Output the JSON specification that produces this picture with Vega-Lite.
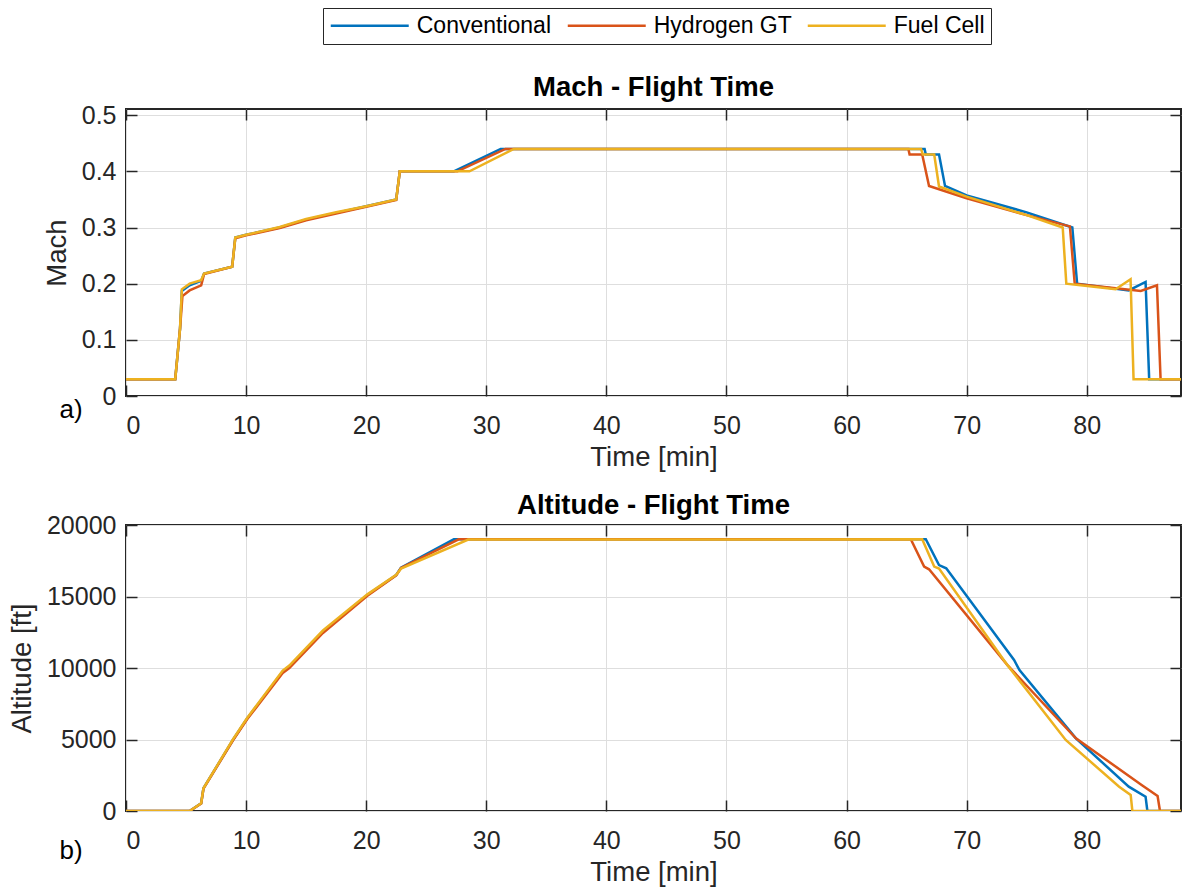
{
  "$schema": "https://vega.github.io/schema/vega-lite/v6.json",
  "padding": {"left": 7, "top": 7, "right": 0, "bottom": 5},
  "background": "white",
  "config": {
    "font": "Liberation Sans",
    "view": {"stroke": "#262626", "strokeWidth": 2},
    "axis": {
      "domain": false,
      "tickColor": "#262626",
      "tickWidth": 1.5,
      "tickSize": -11,
      "labelFont": "Liberation Sans",
      "labelFontSize": 25,
      "labelColor": "#262626",
      "titleFont": "Liberation Sans",
      "titleFontSize": 27.5,
      "titleFontWeight": "normal",
      "titleColor": "#262626",
      "gridColor": "#dedede",
      "gridWidth": 1
    },
    "title": {"font": "Liberation Sans", "fontSize": 27.5, "fontWeight": "bold", "color": "#000000", "offset": 2},
    "concat": {"spacing": 18}
  },
  "datasets": {
    "mach": [
      {"series": "Conventional", "time": 0, "mach": 0.03},
      {"series": "Conventional", "time": 4.1, "mach": 0.03},
      {"series": "Conventional", "time": 4.5, "mach": 0.12},
      {"series": "Conventional", "time": 4.65, "mach": 0.187},
      {"series": "Conventional", "time": 5.3, "mach": 0.197},
      {"series": "Conventional", "time": 6.26, "mach": 0.205},
      {"series": "Conventional", "time": 6.5, "mach": 0.218},
      {"series": "Conventional", "time": 8.84, "mach": 0.23},
      {"series": "Conventional", "time": 9.1, "mach": 0.282},
      {"series": "Conventional", "time": 10, "mach": 0.287},
      {"series": "Conventional", "time": 12.8, "mach": 0.3},
      {"series": "Conventional", "time": 15, "mach": 0.314},
      {"series": "Conventional", "time": 17.5, "mach": 0.326},
      {"series": "Conventional", "time": 20, "mach": 0.338},
      {"series": "Conventional", "time": 22.5, "mach": 0.35},
      {"series": "Conventional", "time": 22.8, "mach": 0.4},
      {"series": "Conventional", "time": 27.3, "mach": 0.4},
      {"series": "Conventional", "time": 31.2, "mach": 0.44},
      {"series": "Conventional", "time": 66.5, "mach": 0.44},
      {"series": "Conventional", "time": 66.6, "mach": 0.43},
      {"series": "Conventional", "time": 67.7, "mach": 0.43},
      {"series": "Conventional", "time": 68.2, "mach": 0.374},
      {"series": "Conventional", "time": 70, "mach": 0.357},
      {"series": "Conventional", "time": 75, "mach": 0.327},
      {"series": "Conventional", "time": 78.8, "mach": 0.3},
      {"series": "Conventional", "time": 79.2, "mach": 0.2},
      {"series": "Conventional", "time": 83.5, "mach": 0.188},
      {"series": "Conventional", "time": 84.9, "mach": 0.203},
      {"series": "Conventional", "time": 85.2, "mach": 0.03},
      {"series": "Conventional", "time": 88, "mach": 0.03},
      {"series": "Hydrogen GT", "time": 0, "mach": 0.03},
      {"series": "Hydrogen GT", "time": 4.1, "mach": 0.03},
      {"series": "Hydrogen GT", "time": 4.5, "mach": 0.12},
      {"series": "Hydrogen GT", "time": 4.7, "mach": 0.178},
      {"series": "Hydrogen GT", "time": 5.3, "mach": 0.188},
      {"series": "Hydrogen GT", "time": 6.26, "mach": 0.197},
      {"series": "Hydrogen GT", "time": 6.5, "mach": 0.217},
      {"series": "Hydrogen GT", "time": 8.84, "mach": 0.23},
      {"series": "Hydrogen GT", "time": 9.1, "mach": 0.281},
      {"series": "Hydrogen GT", "time": 10, "mach": 0.286},
      {"series": "Hydrogen GT", "time": 12.8, "mach": 0.299},
      {"series": "Hydrogen GT", "time": 15, "mach": 0.313},
      {"series": "Hydrogen GT", "time": 17.5, "mach": 0.325},
      {"series": "Hydrogen GT", "time": 20, "mach": 0.337},
      {"series": "Hydrogen GT", "time": 22.5, "mach": 0.349},
      {"series": "Hydrogen GT", "time": 22.8, "mach": 0.4},
      {"series": "Hydrogen GT", "time": 27.6, "mach": 0.4},
      {"series": "Hydrogen GT", "time": 31.6, "mach": 0.44},
      {"series": "Hydrogen GT", "time": 65.15, "mach": 0.44},
      {"series": "Hydrogen GT", "time": 65.25, "mach": 0.43},
      {"series": "Hydrogen GT", "time": 66.3, "mach": 0.43},
      {"series": "Hydrogen GT", "time": 66.87, "mach": 0.374},
      {"series": "Hydrogen GT", "time": 70, "mach": 0.352},
      {"series": "Hydrogen GT", "time": 75, "mach": 0.322},
      {"series": "Hydrogen GT", "time": 78.6, "mach": 0.302},
      {"series": "Hydrogen GT", "time": 79.0, "mach": 0.2},
      {"series": "Hydrogen GT", "time": 84.5, "mach": 0.187},
      {"series": "Hydrogen GT", "time": 85.85, "mach": 0.197},
      {"series": "Hydrogen GT", "time": 86.15, "mach": 0.03},
      {"series": "Hydrogen GT", "time": 88, "mach": 0.03},
      {"series": "Fuel Cell", "time": 0, "mach": 0.03},
      {"series": "Fuel Cell", "time": 4.1, "mach": 0.03},
      {"series": "Fuel Cell", "time": 4.5, "mach": 0.12},
      {"series": "Fuel Cell", "time": 4.65, "mach": 0.19},
      {"series": "Fuel Cell", "time": 5.3, "mach": 0.2},
      {"series": "Fuel Cell", "time": 6.26, "mach": 0.206},
      {"series": "Fuel Cell", "time": 6.5, "mach": 0.218},
      {"series": "Fuel Cell", "time": 8.84, "mach": 0.23},
      {"series": "Fuel Cell", "time": 9.1, "mach": 0.282},
      {"series": "Fuel Cell", "time": 10, "mach": 0.287},
      {"series": "Fuel Cell", "time": 12.8, "mach": 0.301},
      {"series": "Fuel Cell", "time": 15, "mach": 0.315},
      {"series": "Fuel Cell", "time": 17.5, "mach": 0.327},
      {"series": "Fuel Cell", "time": 20, "mach": 0.338},
      {"series": "Fuel Cell", "time": 22.5, "mach": 0.35},
      {"series": "Fuel Cell", "time": 22.8, "mach": 0.4},
      {"series": "Fuel Cell", "time": 28.6, "mach": 0.4},
      {"series": "Fuel Cell", "time": 32.3, "mach": 0.44},
      {"series": "Fuel Cell", "time": 66.2, "mach": 0.44},
      {"series": "Fuel Cell", "time": 66.35, "mach": 0.43},
      {"series": "Fuel Cell", "time": 67.3, "mach": 0.43},
      {"series": "Fuel Cell", "time": 67.7, "mach": 0.373},
      {"series": "Fuel Cell", "time": 70, "mach": 0.355},
      {"series": "Fuel Cell", "time": 75, "mach": 0.322},
      {"series": "Fuel Cell", "time": 78.0, "mach": 0.3},
      {"series": "Fuel Cell", "time": 78.3, "mach": 0.2},
      {"series": "Fuel Cell", "time": 82.4, "mach": 0.19},
      {"series": "Fuel Cell", "time": 83.65, "mach": 0.208},
      {"series": "Fuel Cell", "time": 83.9, "mach": 0.03},
      {"series": "Fuel Cell", "time": 88, "mach": 0.03}
    ],
    "alt": [
      {"series": "Conventional", "time": 0, "altitude": 0},
      {"series": "Conventional", "time": 5.3, "altitude": 0},
      {"series": "Conventional", "time": 6.26, "altitude": 540},
      {"series": "Conventional", "time": 6.45, "altitude": 1590},
      {"series": "Conventional", "time": 8.9, "altitude": 4965},
      {"series": "Conventional", "time": 10.1, "altitude": 6480},
      {"series": "Conventional", "time": 13.05, "altitude": 9750},
      {"series": "Conventional", "time": 13.6, "altitude": 10100},
      {"series": "Conventional", "time": 16.4, "altitude": 12545},
      {"series": "Conventional", "time": 20.1, "altitude": 15105},
      {"series": "Conventional", "time": 22.5, "altitude": 16500},
      {"series": "Conventional", "time": 22.9, "altitude": 17020},
      {"series": "Conventional", "time": 27.3, "altitude": 19000},
      {"series": "Conventional", "time": 66.6, "altitude": 19000},
      {"series": "Conventional", "time": 67.7, "altitude": 17200},
      {"series": "Conventional", "time": 68.3, "altitude": 16970},
      {"series": "Conventional", "time": 73.95, "altitude": 10560},
      {"series": "Conventional", "time": 74.4, "altitude": 9860},
      {"series": "Conventional", "time": 79.1, "altitude": 5080},
      {"series": "Conventional", "time": 83.5, "altitude": 1700},
      {"series": "Conventional", "time": 84.9, "altitude": 1000},
      {"series": "Conventional", "time": 85.05, "altitude": 0},
      {"series": "Conventional", "time": 88, "altitude": 0},
      {"series": "Hydrogen GT", "time": 0, "altitude": 0},
      {"series": "Hydrogen GT", "time": 5.3, "altitude": 0},
      {"series": "Hydrogen GT", "time": 6.26, "altitude": 520},
      {"series": "Hydrogen GT", "time": 6.45, "altitude": 1560},
      {"series": "Hydrogen GT", "time": 8.9, "altitude": 4930},
      {"series": "Hydrogen GT", "time": 10.1, "altitude": 6430},
      {"series": "Hydrogen GT", "time": 13.05, "altitude": 9650},
      {"series": "Hydrogen GT", "time": 13.6, "altitude": 10000},
      {"series": "Hydrogen GT", "time": 16.4, "altitude": 12450},
      {"series": "Hydrogen GT", "time": 20.1, "altitude": 15050},
      {"series": "Hydrogen GT", "time": 22.5, "altitude": 16480},
      {"series": "Hydrogen GT", "time": 22.9, "altitude": 17000},
      {"series": "Hydrogen GT", "time": 27.7, "altitude": 19000},
      {"series": "Hydrogen GT", "time": 65.35, "altitude": 19000},
      {"series": "Hydrogen GT", "time": 66.46, "altitude": 17090},
      {"series": "Hydrogen GT", "time": 66.87, "altitude": 16900},
      {"series": "Hydrogen GT", "time": 73.4, "altitude": 10200},
      {"series": "Hydrogen GT", "time": 79.1, "altitude": 5080},
      {"series": "Hydrogen GT", "time": 84.6, "altitude": 1800},
      {"series": "Hydrogen GT", "time": 85.9, "altitude": 1050},
      {"series": "Hydrogen GT", "time": 86.1, "altitude": 0},
      {"series": "Hydrogen GT", "time": 88, "altitude": 0},
      {"series": "Fuel Cell", "time": 0, "altitude": 0},
      {"series": "Fuel Cell", "time": 5.3, "altitude": 0},
      {"series": "Fuel Cell", "time": 6.26, "altitude": 540},
      {"series": "Fuel Cell", "time": 6.45, "altitude": 1590},
      {"series": "Fuel Cell", "time": 8.9, "altitude": 5000},
      {"series": "Fuel Cell", "time": 10.1, "altitude": 6520},
      {"series": "Fuel Cell", "time": 13.05, "altitude": 9820},
      {"series": "Fuel Cell", "time": 13.6, "altitude": 10170},
      {"series": "Fuel Cell", "time": 16.4, "altitude": 12620},
      {"series": "Fuel Cell", "time": 20.1, "altitude": 15150},
      {"series": "Fuel Cell", "time": 22.5, "altitude": 16520},
      {"series": "Fuel Cell", "time": 22.9, "altitude": 16950},
      {"series": "Fuel Cell", "time": 28.5, "altitude": 18980},
      {"series": "Fuel Cell", "time": 66.3, "altitude": 19000},
      {"series": "Fuel Cell", "time": 67.3, "altitude": 17090},
      {"series": "Fuel Cell", "time": 67.7, "altitude": 16950},
      {"series": "Fuel Cell", "time": 73.4, "altitude": 10200},
      {"series": "Fuel Cell", "time": 78.25, "altitude": 4965},
      {"series": "Fuel Cell", "time": 82.7, "altitude": 1700},
      {"series": "Fuel Cell", "time": 83.66, "altitude": 1120},
      {"series": "Fuel Cell", "time": 83.8, "altitude": 0},
      {"series": "Fuel Cell", "time": 88, "altitude": 0}
    ]
  },
  "vconcat": [
    {
      "width": 1055,
      "height": 287,
      "title": {"text": "Mach - Flight Time"},
      "layer": [
        {
          "data": {"name": "mach"},
          "mark": {"type": "line", "strokeWidth": 2.5, "clip": true},
          "encoding": {
            "x": {"field": "time", "type": "quantitative", "scale": {"domain": [0, 87.85], "nice": false},
                  "axis": {"title": "Time [min]", "values": [0, 10, 20, 30, 40, 50, 60, 70, 80], "labelPadding": 28, "titlePadding": 5}},
            "y": {"field": "mach", "type": "quantitative", "scale": {"domain": [0, 0.511], "nice": false},
                  "axis": {"title": "Mach", "values": [0, 0.1, 0.2, 0.3, 0.4, 0.5], "format": "~g", "labelPadding": 21, "titlePadding": 10}},
            "color": {"field": "series", "type": "nominal",
                      "scale": {"domain": ["Conventional", "Hydrogen GT", "Fuel Cell"], "range": ["#0072BD", "#D95319", "#EDB120"]},
                      "legend": {"orient": "none", "legendX": 197, "legendY": -101, "direction": "horizontal", "title": null,
                                 "symbolType": "M-4,0H4", "symbolSize": 380, "symbolStrokeWidth": 2.5, "symbolOffset": 29.25,
                                 "labelFontSize": 23, "labelFont": "Liberation Sans", "labelColor": "#000000", "labelOffset": 35.5,
                                 "columnPadding": 10, "strokeColor": "#262626", "padding": 6, "fillColor": "white"}},
            "order": {"field": "time", "type": "quantitative"}
          }
        },
        {
          "data": {"values": [{"label": "a)"}]},
          "mark": {"type": "text", "fontSize": 26, "color": "#000000", "align": "center", "baseline": "middle"},
          "encoding": {
            "text": {"field": "label"},
            "x": {"datum": -4.58, "type": "quantitative",
                  "axis": {"orient": "top", "labels": false, "title": null, "grid": false, "values": [0, 10, 20, 30, 40, 50, 60, 70, 80]}},
            "y": {"datum": -0.025, "type": "quantitative",
                  "axis": {"orient": "right", "labels": false, "title": null, "grid": false, "values": [0, 0.1, 0.2, 0.3, 0.4, 0.5]}}
          }
        }
      ],
      "resolve": {"axis": {"x": "independent", "y": "independent"}}
    },
    {
      "width": 1055,
      "height": 286,
      "title": {"text": "Altitude - Flight Time", "offset": -6},
      "layer": [
        {
          "data": {"name": "alt"},
          "mark": {"type": "line", "strokeWidth": 2.5, "clip": true},
          "encoding": {
            "x": {"field": "time", "type": "quantitative", "scale": {"domain": [0, 87.85], "nice": false},
                  "axis": {"title": "Time [min]", "values": [0, 10, 20, 30, 40, 50, 60, 70, 80], "labelPadding": 28, "titlePadding": 5}},
            "y": {"field": "altitude", "type": "quantitative", "scale": {"domain": [0, 20000], "nice": false},
                  "axis": {"title": "Altitude [ft]", "values": [0, 5000, 10000, 15000, 20000], "format": "d", "labelPadding": 21, "titlePadding": 10}},
            "color": {"field": "series", "type": "nominal",
                      "scale": {"domain": ["Conventional", "Hydrogen GT", "Fuel Cell"], "range": ["#0072BD", "#D95319", "#EDB120"]}},
            "order": {"field": "time", "type": "quantitative"}
          }
        },
        {
          "data": {"values": [{"label": "b)"}]},
          "mark": {"type": "text", "fontSize": 26, "color": "#000000", "align": "center", "baseline": "middle"},
          "encoding": {
            "text": {"field": "label"},
            "x": {"datum": -4.58, "type": "quantitative",
                  "axis": {"orient": "top", "labels": false, "title": null, "grid": false, "values": [0, 10, 20, 30, 40, 50, 60, 70, 80]}},
            "y": {"datum": -2800, "type": "quantitative",
                  "axis": {"orient": "right", "labels": false, "title": null, "grid": false, "values": [0, 5000, 10000, 15000, 20000]}}
          }
        }
      ],
      "resolve": {"axis": {"x": "independent", "y": "independent"}}
    }
  ]
}
